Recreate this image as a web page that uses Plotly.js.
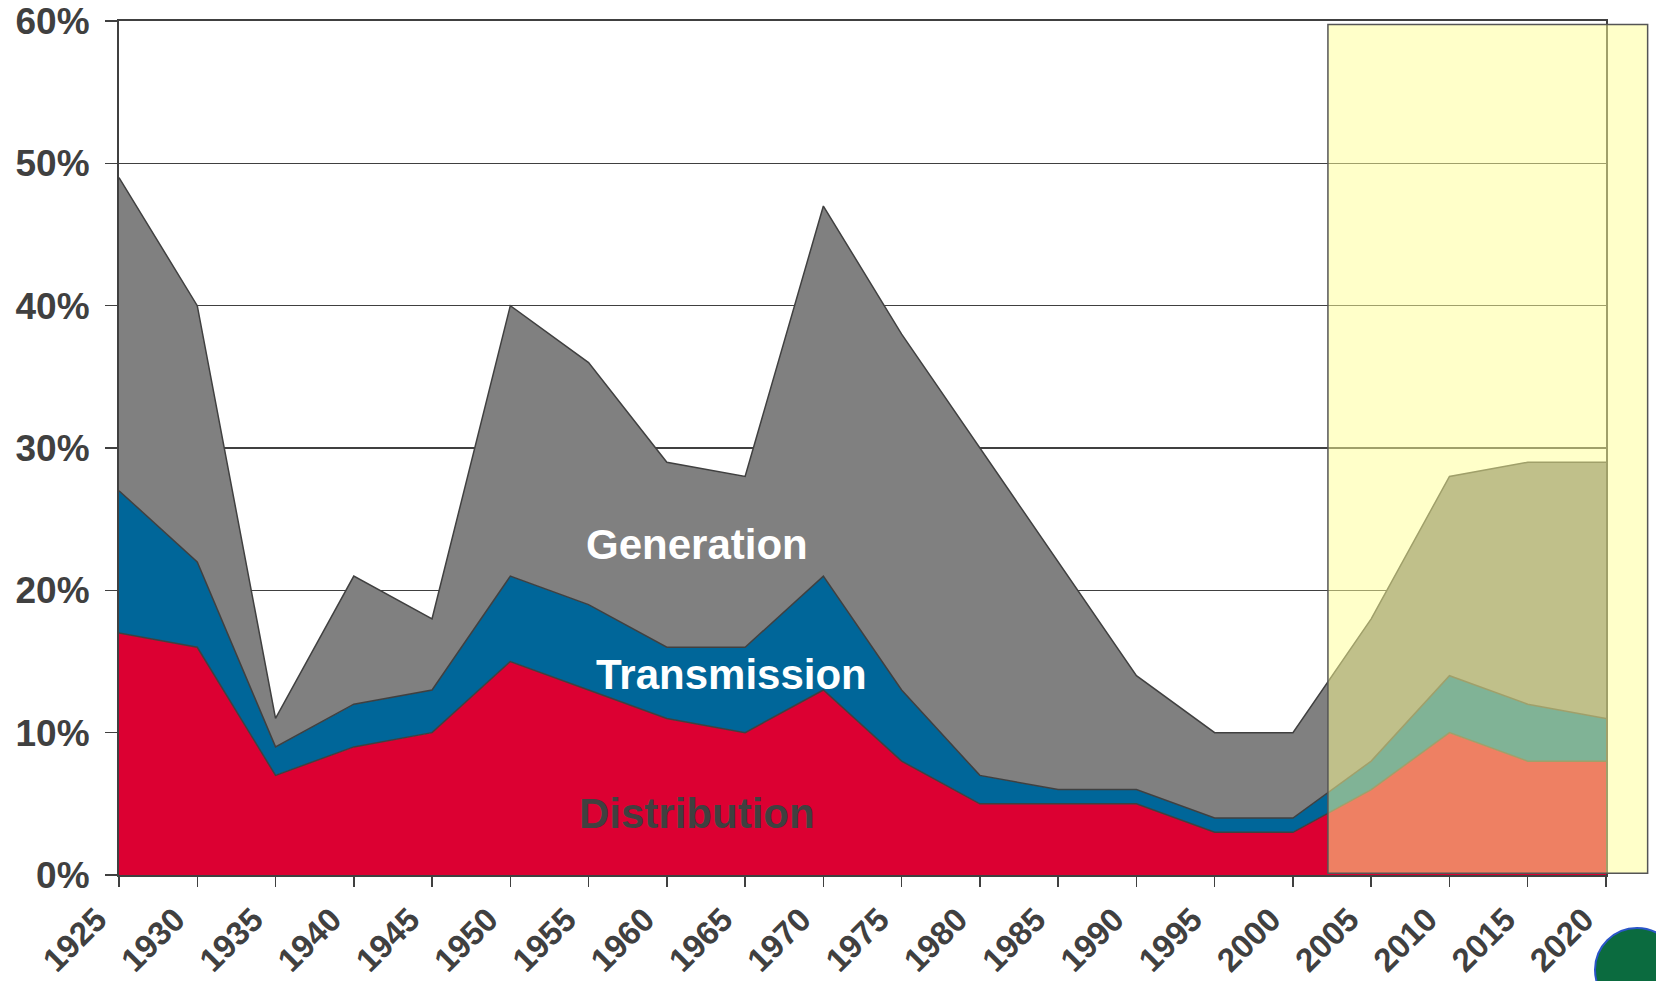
<!DOCTYPE html>
<html>
<head>
<meta charset="utf-8">
<script src="https://cdn.plot.ly/plotly-3.0.1.min.js"></script>
<style>
html,body{margin:0;padding:0;background:#fff;}
#chart{width:1656px;height:981px;}
</style>
</head>
<body>
<div id="chart"></div>
<script>
const years = [1925,1930,1935,1940,1945,1950,1955,1960,1965,1970,1975,1980,1985,1990,1995,2000,2005,2010,2015,2020];
const distribution = [17,16,7,9,10,15,13,11,10,13,8,5,5,5,3,3,6,10,8,8];
const transmission = [10,6,2,3,3,6,6,5,6,8,5,2,1,1,1,1,2,4,4,3];
const generation = [22,18,2,9,5,19,17,13,12,26,25,23,16,8,6,6,10,14,17,18];
const seriesNames = ["Distribution","Transmission","Generation"];
const tickLabels = years.map(String);

const edge = {color:'#404040', width:1.5};
const traces = [
  {x:years, y:distribution, name:seriesNames[0], type:'scatter', mode:'lines', stackgroup:'one', line:edge, fillcolor:'#DC0032'},
  {x:years, y:transmission, name:seriesNames[1], type:'scatter', mode:'lines', stackgroup:'one', line:edge, fillcolor:'#006699'},
  {x:years, y:generation, name:seriesNames[2], type:'scatter', mode:'lines', stackgroup:'one', line:edge, fillcolor:'#808080'}
];

const fam = '"Liberation Sans", Arial, sans-serif';
const labelFont = {family:fam, size:42, weight:'bold'};

const layout = {
  width:1656, height:981,
  margin:{l:119, r:50, t:21, b:106},
  paper_bgcolor:'#fff', plot_bgcolor:'#fff',
  showlegend:false,
  xaxis:{
    range:[1925,2020], tickvals:years, ticktext:tickLabels, tickangle:-45,
    ticks:'outside', ticklen:10, tickcolor:'#404040', tickwidth:1.5,
    ticklabelstandoff:0, ticklabelshift:-22,
    showgrid:false, zeroline:false, showline:true, linecolor:'#404040', linewidth:2, mirror:true,
    tickfont:{family:fam, size:33, color:'#404040', weight:'bold'}
  },
  yaxis:{
    range:[0,60], dtick:10, ticksuffix:'%',
    ticks:'outside', ticklen:12, tickcolor:'#404040', tickwidth:1.5,
    ticklabelstandoff:8,
    showgrid:true, gridcolor:'#404040', gridwidth:1.5, zeroline:false,
    showline:true, linecolor:'#404040', linewidth:2, mirror:true,
    tickfont:{family:fam, size:37, color:'#404040', weight:'bold'}
  },
  annotations:[
    {x:1961.9, y:23.2, xref:'x', yref:'y', text:'Generation', showarrow:false, font:Object.assign({color:'#ffffff'}, labelFont)},
    {x:1964.1, y:14.1, xref:'x', yref:'y', text:'Transmission', showarrow:false, font:Object.assign({color:'#ffffff'}, labelFont)},
    {x:1961.9, y:4.3, xref:'x', yref:'y', text:'Distribution', showarrow:false, font:Object.assign({color:'#404040'}, labelFont)}
  ],
  shapes:[
    {type:'rect', xref:'paper', yref:'paper', x0:0.813, x1:1.028, y0:0.002, y1:0.996,
     fillcolor:'rgba(255,255,148,0.5)', line:{color:'#555555', width:1.5}, layer:'above'},
    {type:'circle', xref:'paper', yref:'paper', x0:0.9926, x1:1.049, y0:-0.160, y1:-0.062,
     fillcolor:'#0b6b3f', line:{color:'#2a55c8', width:2}, layer:'above'}
  ]
};

Plotly.newPlot('chart', traces, layout, {displayModeBar:false, staticPlot:true});
</script>
</body>
</html>
